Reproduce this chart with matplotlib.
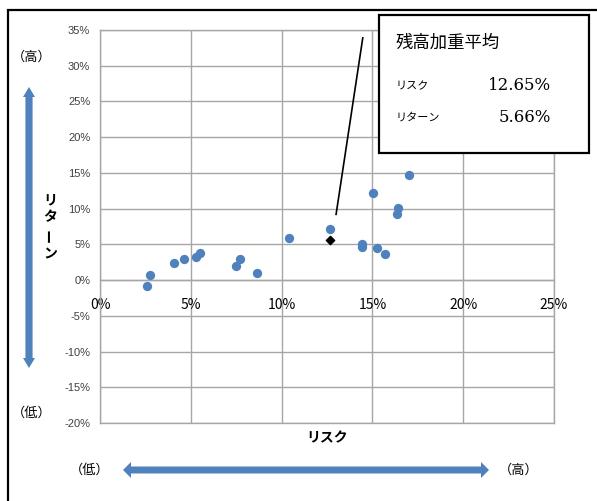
import matplotlib
matplotlib.use("Agg")
from matplotlib import pyplot as plt
from matplotlib.patches import Rectangle, FancyArrow

plt.rcParams['font.family'] = ['Noto Sans CJK JP', 'DejaVu Sans']

# data (risk %, return %)
risk = [2.6, 2.75, 4.08, 4.63, 5.26, 5.51, 7.47, 7.73, 8.63, 10.38,
        12.68, 14.43, 14.43, 15.02, 15.24, 15.71, 16.39, 16.36, 17.0]
ret = [-0.8, 0.7, 2.43, 2.95, 3.28, 3.84, 1.97, 2.95, 1.03, 5.85,
       7.16, 5.1, 4.6, 12.18, 4.54, 3.6, 10.15, 9.2, 14.65]
avg_risk = 12.65
avg_ret = 5.66
xticks = [0, 5, 10, 15, 20, 25]
yticks = [-20, -15, -10, -5, 0, 5, 10, 15, 20, 25, 30, 35]

W, H = 597, 501
blue = '#4F81BD'
grid_c = '#A6A6A6'


def fx(px):
    return px / W


def fy(py):
    return 1 - py / H


fig = plt.figure(figsize=(W / 100, H / 100), dpi=100)
ax = fig.add_axes([fx(100), fy(423), fx(554) - fx(100), fy(30) - fy(423)])

ax.scatter(risk, ret, s=45, color=blue, zorder=3, linewidths=0)
ax.scatter([avg_risk], [avg_ret], s=18, marker='D', color='black', zorder=4)

ax.set_xlim(0, 25)
ax.set_ylim(-20, 35)
ax.set_xticks(xticks)
ax.set_yticks(yticks)
ax.set_xticklabels([f'{t}%' for t in xticks], fontfamily='Liberation Sans', fontsize=8, color='#404040')
ax.set_yticklabels([f'{t}%' for t in yticks], fontfamily='Liberation Sans', fontsize=8, color='#404040')
ax.tick_params(axis='x', length=0, pad=13)
ax.tick_params(axis='y', length=0, pad=7)
ax.grid(True, color=grid_c, linewidth=1.0)
ax.set_axisbelow(True)
for s in ax.spines.values():
    s.set_color(grid_c)
    s.set_linewidth(1.0)
ax.spines['bottom'].set_position(('data', 0))
ax.axhline(-20, color=grid_c, linewidth=1.0, clip_on=False)

# leader line
ax.plot([13.0, 14.47], [9.2, 33.9], color='black', linewidth=1.2, zorder=5, clip_on=False)

# annotation box
box = Rectangle((fx(379), fy(153)), fx(589) - fx(379), fy(15) - fy(153),
                transform=fig.transFigure, facecolor='white', edgecolor='black',
                linewidth=1.6, zorder=10)
fig.patches.append(box)
fig.text(fx(396), fy(43), '残高加重平均', fontsize=12.5, va='center', ha='left', zorder=11)
fig.text(fx(396), fy(86), 'リスク', fontsize=8, va='center', ha='left', zorder=11)
fig.text(fx(396), fy(118), 'リターン', fontsize=8, va='center', ha='left', zorder=11)
fig.text(fx(551), fy(86), f'{avg_risk:.2f}%', fontfamily='DejaVu Serif', fontsize=12,
         va='center', ha='right', zorder=11)
fig.text(fx(551), fy(118), f'{avg_ret:.2f}%', fontfamily='DejaVu Serif', fontsize=12,
         va='center', ha='right', zorder=11)

# axis titles
fig.text(fx(327), fy(438), 'リスク', fontsize=10, fontweight='bold', ha='center', va='center')
for ch, py, rot in [('リ', 200, 0), ('タ', 217, 0), ('ー', 235, 90), ('ン', 254, 0)]:
    fig.text(fx(50), fy(py), ch, fontsize=10, fontweight='bold', ha='center', va='center', rotation=rot)

# direction arrows
fig.text(fx(32), fy(57), '（高）', fontsize=9.5, ha='center', va='center')
fig.text(fx(32), fy(413), '（低）', fontsize=9.5, ha='center', va='center')
fig.text(fx(90), fy(470), '（低）', fontsize=9.5, ha='center', va='center')
fig.text(fx(519), fy(470), '（高）', fontsize=9.5, ha='center', va='center')

hw = 12
fig.patches.append(FancyArrow(fx(29), fy(228), 0, fy(87) - fy(228), width=6 / H,
                              head_width=hw / W, head_length=10 / H, length_includes_head=True,
                              transform=fig.transFigure, color=blue, linewidth=0))
fig.patches.append(FancyArrow(fx(29), fy(228), 0, fy(368) - fy(228), width=6 / H,
                              head_width=hw / W, head_length=10 / H, length_includes_head=True,
                              transform=fig.transFigure, color=blue, linewidth=0))
fig.patches.append(FancyArrow(fx(306), fy(470), fx(489) - fx(306), 0, width=7 / H,
                              head_width=16 / H, head_length=8 / W, length_includes_head=True,
                              transform=fig.transFigure, color=blue, linewidth=0))
fig.patches.append(FancyArrow(fx(306), fy(470), fx(123) - fx(306), 0, width=7 / H,
                              head_width=16 / H, head_length=8 / W, length_includes_head=True,
                              transform=fig.transFigure, color=blue, linewidth=0))

# outer frame
fig.patches.append(Rectangle((fx(8), fy(H + 5)), fx(W + 5) - fx(8), fy(10) - fy(H + 5),
                             transform=fig.transFigure, facecolor='none', edgecolor='black',
                             linewidth=1.6, zorder=0))

fig.savefig('out.png', dpi=100)
